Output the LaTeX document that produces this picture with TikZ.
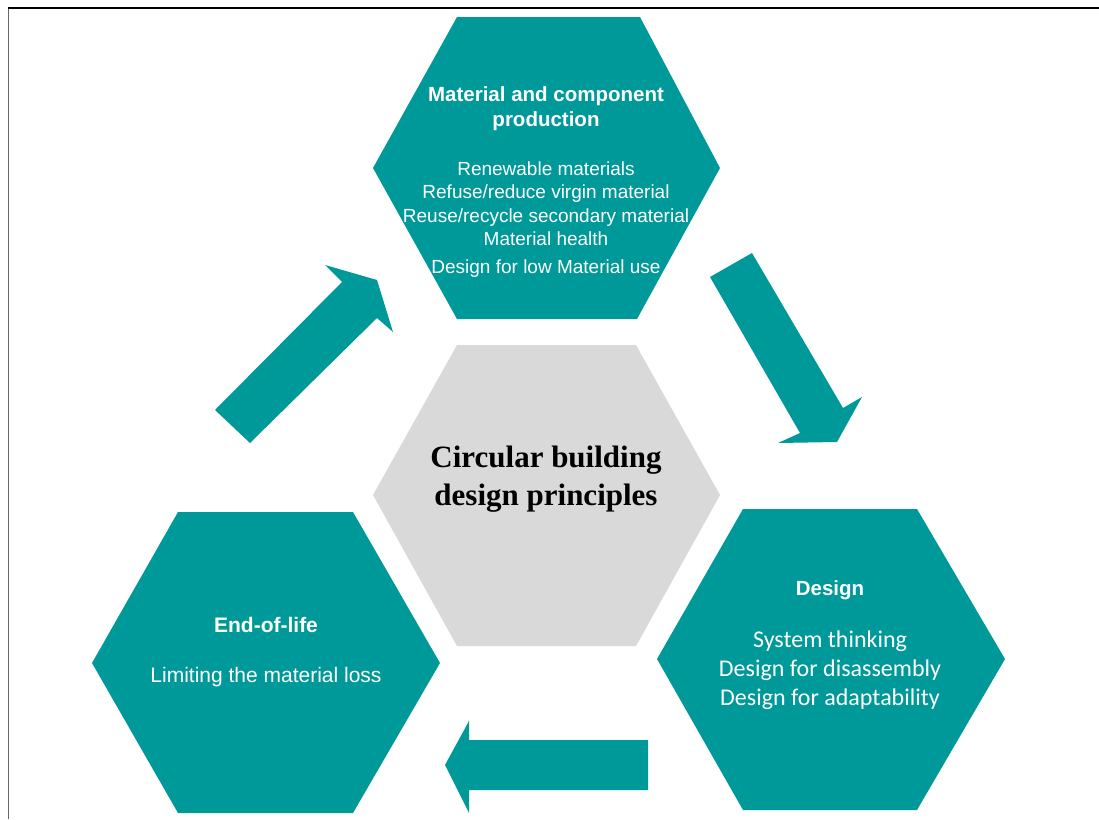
\documentclass[tikz,border=0pt]{standalone}
\usepackage{fontspec}
\setmainfont{Liberation Sans}
\newfontfamily\calfont{Carlito}
\newfontfamily\tnrfont{Liberation Serif}
\definecolor{tealfill}{HTML}{009999}
\definecolor{hexgray}{HTML}{D9D9D9}
\begin{document}
\begin{tikzpicture}[x=1pt,y=-1pt,
  tealshape/.style={fill=tealfill},
  grayshape/.style={fill=hexgray},
  wtext/.style={text=white,anchor=base,inner sep=0pt},
  ttl/.style={wtext,font=\fontsize{20.5}{24}\selectfont\bfseries},
  itm/.style={wtext,font=\fontsize{19}{23}\selectfont},
  itmb/.style={wtext,font=\fontsize{21}{25}\selectfont},
  cal/.style={wtext,font=\calfont\fontsize{24}{29}\selectfont},
  ctr/.style={anchor=base,inner sep=0pt,text=black,font=\tnrfont\fontsize{31}{36}\selectfont\bfseries}]
\useasboundingbox (0,0) rectangle (1099,819);
\fill[white] (0,0) rectangle (1099,819);
% frame
\draw[black!60,line width=1pt] (8,819) -- (8,8);
\draw[black,line width=1.2pt] (8,8) -- (1099,8);
% hexagons
\fill[tealshape] (457,17) -- (640,17) -- (720,168) -- (637,319) -- (457,319) -- (373,168) -- cycle;
\fill[grayshape] (457,345) -- (636,345) -- (720,495) -- (636,646) -- (457,646) -- (373,495) -- cycle;
\fill[tealshape] (178,512) -- (353,512) -- (440,663) -- (353,813) -- (178,813) -- (92,663) -- cycle;
\fill[tealshape] (743,509) -- (917,509) -- (1005,659) -- (917,810) -- (743,810) -- (657,659) -- cycle;
% block arrows
\fill[tealshape] (215,410) -- (342,282) -- (325,265) -- (377,280) -- (393,332) -- (377,318) -- (250,443) -- cycle;
\fill[tealshape] (710,277) -- (752,253) -- (843,408) -- (862,397) -- (837,442) -- (778,443) -- (800,433) -- cycle;
\fill[tealshape] (648,740) -- (469,740) -- (469,721) -- (445,765) -- (469,813) -- (469,790) -- (648,790) -- cycle;
% top hexagon text
\node[ttl] (t1) at (546,101) {Material and component};
\node[ttl] (t2) at (546,126) {production};
\node[itm] (t3) at (546,175) {Renewable materials};
\node[itm] (t4) at (546,198) {Refuse/reduce virgin material};
\node[itm] (t5) at (546,222) {Reuse/recycle secondary material};
\node[itm] (t6) at (546,245) {Material health};
\node[itm] (t7) at (546,273) {Design for low Material use};
% centre
\node[ctr] (c1) at (546,467) {Circular building};
\node[ctr] (c2) at (546,505) {design principles};
% end of life
\node[ttl,font=\fontsize{21}{25}\selectfont\bfseries] (e1) at (266,632) {End-of-life};
\node[itmb] (e2) at (266,682) {Limiting the material loss};
% design
\node[ttl] (d1) at (830,595) {Design};
\node[cal] (d2) at (830,647) {System thinking};
\node[cal] (d3) at (830,676) {Design for disassembly};
\node[cal] (d4) at (830,705) {Design for adaptability};
\end{tikzpicture}
\end{document}
